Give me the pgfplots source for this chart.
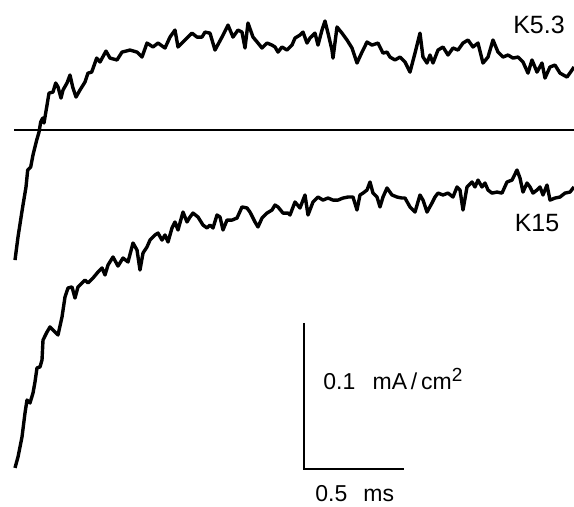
\documentclass[border=0pt]{standalone}
\usepackage{fontspec}
\setmainfont{Liberation Sans}
\usepackage{pgfplots}
\pgfplotsset{compat=1.18}

% traces: time (ms) vs current density (mA/cm^2), zero line at 0
\pgfplotstableread{
t I
0.005 -0.0891
0.020 -0.0733
0.0385 -0.0569
0.045 -0.0514
0.060 -0.0390
0.0685 -0.0274
0.0835 -0.0253
0.095 -0.0171
0.1135 -0.0069
0.125 -0.0014
0.1335 0.0055
0.1435 0.0082
0.150 0.0048
0.1635 0.0158
0.175 0.0253
0.195 0.0260
0.2085 0.0322
0.220 0.0295
0.235 0.0219
0.245 0.0274
0.265 0.0322
0.280 0.0377
0.2935 0.0295
0.310 0.0226
0.330 0.0274
0.355 0.0329
0.370 0.0390
0.3885 0.0397
0.4135 0.0493
0.430 0.0466
0.460 0.0541
0.480 0.0493
0.515 0.0480
0.540 0.0534
0.580 0.0548
0.615 0.0534
0.640 0.0500
0.665 0.0596
0.695 0.0569
0.720 0.0596
0.755 0.0562
0.780 0.0637
0.805 0.0685
0.820 0.0569
0.855 0.0617
0.890 0.0664
0.915 0.0637
0.940 0.0637
0.955 0.0671
0.980 0.0664
1.005 0.0548
1.040 0.0637
1.070 0.0719
1.095 0.0637
1.120 0.0685
1.140 0.0671
1.155 0.0562
1.170 0.0733
1.195 0.0637
1.220 0.0596
1.240 0.0562
1.265 0.0596
1.290 0.0582
1.305 0.0569
1.320 0.0534
1.340 0.0569
1.365 0.0548
1.390 0.0582
1.405 0.0630
1.430 0.0651
1.445 0.0671
1.465 0.0596
1.480 0.0630
1.505 0.0664
1.520 0.0582
1.540 0.0685
1.555 0.0747
1.570 0.0664
1.590 0.0548
1.595 0.0493
1.615 0.0706
1.640 0.0664
1.665 0.0617
1.690 0.0562
1.715 0.0459
1.740 0.0534
1.765 0.0603
1.790 0.0582
1.820 0.0596
1.845 0.0527
1.865 0.0534
1.880 0.0500
1.905 0.0480
1.930 0.0500
1.955 0.0466
1.980 0.0397
2.005 0.0527
2.030 0.0664
2.045 0.0500
2.065 0.0459
2.080 0.0514
2.095 0.0459
2.120 0.0548
2.145 0.0569
2.170 0.0514
2.195 0.0562
2.220 0.0548
2.245 0.0596
2.270 0.0617
2.295 0.0569
2.320 0.0596
2.345 0.0459
2.370 0.0500
2.395 0.0617
2.420 0.0534
2.445 0.0500
2.470 0.0514
2.495 0.0493
2.520 0.0500
2.545 0.0466
2.570 0.0390
2.590 0.0480
2.615 0.0397
2.640 0.0459
2.655 0.0356
2.680 0.0432
2.705 0.0445
2.730 0.0390
2.765 0.0363
2.790 0.0411
2.800 0.0432
}\kfive

\pgfplotstableread{
t I
0.005 -0.2315
0.020 -0.2240
0.040 -0.2103
0.055 -0.1939
0.065 -0.1850
0.080 -0.1870
0.095 -0.1802
0.105 -0.1726
0.115 -0.1630
0.130 -0.1623
0.140 -0.1576
0.145 -0.1439
0.165 -0.1384
0.180 -0.1349
0.195 -0.1370
0.220 -0.1404
0.240 -0.1281
0.255 -0.1144
0.270 -0.1082
0.290 -0.1075
0.305 -0.1151
0.320 -0.1075
0.340 -0.1048
0.355 -0.1028
0.370 -0.1048
0.395 -0.1014
0.420 -0.0973
0.440 -0.0945
0.455 -0.0993
0.470 -0.0925
0.495 -0.0870
0.520 -0.0932
0.545 -0.0877
0.570 -0.0904
0.595 -0.0774
0.615 -0.0822
0.630 -0.0959
0.645 -0.0843
0.665 -0.0801
0.680 -0.0754
0.705 -0.0719
0.720 -0.0706
0.740 -0.0754
0.755 -0.0719
0.770 -0.0767
0.790 -0.0671
0.805 -0.0630
0.820 -0.0685
0.845 -0.0562
0.865 -0.0630
0.880 -0.0596
0.895 -0.0569
0.920 -0.0596
0.945 -0.0651
0.965 -0.0671
0.980 -0.0651
0.995 -0.0671
1.015 -0.0582
1.030 -0.0596
1.045 -0.0685
1.065 -0.0617
1.090 -0.0617
1.115 -0.0603
1.140 -0.0527
1.165 -0.0534
1.180 -0.0562
1.205 -0.0630
1.220 -0.0664
1.240 -0.0603
1.265 -0.0569
1.290 -0.0548
1.305 -0.0514
1.320 -0.0527
1.345 -0.0569
1.370 -0.0569
1.380 -0.0582
1.405 -0.0493
1.430 -0.0534
1.455 -0.0445
1.470 -0.0582
1.495 -0.0493
1.520 -0.0459
1.545 -0.0480
1.570 -0.0466
1.595 -0.0480
1.620 -0.0480
1.645 -0.0466
1.670 -0.0459
1.695 -0.0459
1.715 -0.0548
1.730 -0.0445
1.745 -0.0432
1.765 -0.0411
1.780 -0.0356
1.795 -0.0432
1.815 -0.0459
1.830 -0.0527
1.845 -0.0459
1.865 -0.0397
1.890 -0.0445
1.915 -0.0459
1.940 -0.0466
1.955 -0.0466
1.980 -0.0527
2.005 -0.0562
2.030 -0.0445
2.045 -0.0480
2.065 -0.0562
2.090 -0.0500
2.105 -0.0459
2.120 -0.0432
2.145 -0.0445
2.170 -0.0432
2.195 -0.0459
2.215 -0.0390
2.230 -0.0411
2.245 -0.0548
2.265 -0.0390
2.290 -0.0356
2.305 -0.0390
2.320 -0.0343
2.340 -0.0390
2.355 -0.0363
2.370 -0.0411
2.390 -0.0432
2.415 -0.0425
2.440 -0.0432
2.465 -0.0356
2.490 -0.0343
2.515 -0.0274
2.530 -0.0329
2.545 -0.0425
2.565 -0.0363
2.580 -0.0390
2.595 -0.0432
2.615 -0.0411
2.630 -0.0390
2.645 -0.0445
2.665 -0.0377
2.680 -0.0480
2.705 -0.0466
2.730 -0.0459
2.755 -0.0432
2.780 -0.0425
2.800 -0.0390
}\kfifteen

\begin{document}
\begin{tikzpicture}
\begin{axis}[
    name=ax,
    scale only axis,
    width=287pt, height=253pt,
    xmin=-0.07, xmax=2.80,
    ymin=-0.2576, ymax=0.0891,
    hide axis,
    clip=false,
]
\addplot[black, line width=1.7pt, line join=round] table[x=t, y=I] {\kfive};
\addplot[black, line width=1.7pt, line join=round] table[x=t, y=I] {\kfifteen};
% zero current
\addplot[black, line width=1.3pt] coordinates {(0,0) (2.8,0)};
% scale bars: 0.1 mA/cm^2 and 0.5 ms
\addplot[black, line width=1.2pt, line join=miter] coordinates {(1.45,-0.1322) (1.45,-0.2322) (1.95,-0.2322)};
\node[anchor=center, font=\fontsize{12.5}{13}\selectfont] at (axis cs:2.625,0.0719) {K5.3};
\node[anchor=center, font=\fontsize{12.5}{13}\selectfont] at (axis cs:2.615,-0.0637) {K15};
\node[anchor=base west, inner sep=0pt, font=\fontsize{11.5}{12}\selectfont] at (axis cs:1.545,-0.1781) {0.1\hspace{0.75em}mA\,/\,cm\textsuperscript{\fontsize{9.5}{10}\selectfont 2}};
\node[anchor=base west, inner sep=0pt, font=\fontsize{11.5}{12}\selectfont] at (axis cs:1.505,-0.2545) {0.5\hspace{0.7em}ms};
\end{axis}
\pgfresetboundingbox
\useasboundingbox (ax.south west) rectangle (ax.north east);
\end{tikzpicture}
\end{document}
